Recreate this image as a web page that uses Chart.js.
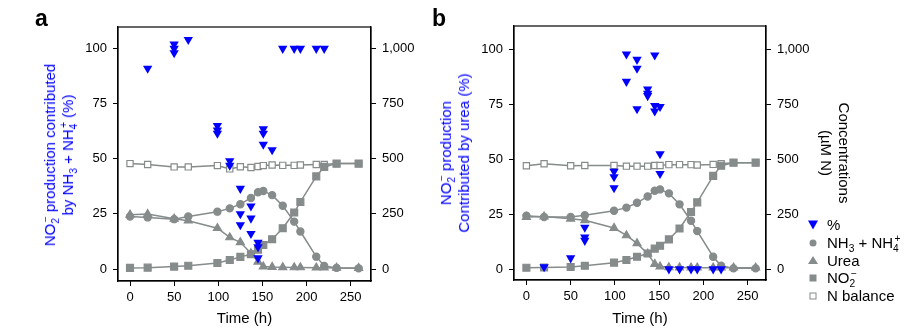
<!DOCTYPE html>
<html>
<head>
<meta charset="utf-8">
<script src="https://cdn.jsdelivr.net/npm/chart.js@4.4.1/dist/chart.umd.min.js"></script>
<style>
  body { margin: 0; background: #fff; font-family: "Liberation Sans", Arial, sans-serif; }
  #wrap { position: relative; width: 914px; height: 334px; overflow: hidden; }
  .panel { position: absolute; top: 0; }
  .letter { position: absolute; font-weight: bold; font-size: 23px; line-height: 23px; color: #000; }
  .ttl { position: absolute; white-space: nowrap; text-align: center; font-size: 15px; line-height: 18px; }
  .blue { color: #0000ff; }
  sub, sup { font-size: 0.68em; line-height: 0; }
  sup.bk { margin-left: -0.42em; }
  #legend { position: absolute; left: 806px; top: 216px; font-size: 15px; color: #000; }
  #legend .row { height: 17.8px; line-height: 17.8px; white-space: nowrap; }
  #legend .mk { display: inline-block; width: 14px; height: 17.8px; position: relative; vertical-align: top; margin-right: 7px; }
  #legend .mk i { position: absolute; left: 50%; top: 50%; transform: translate(-50%, -50%); display: block; }
  .m-pct { width: 0; height: 0; border-left: 5px solid transparent; border-right: 5px solid transparent; border-top: 9px solid #0000ff; }
  .m-nh { width: 7px; height: 7px; border-radius: 50%; background: #868b8b; }
  .m-urea { width: 0; height: 0; border-left: 5px solid transparent; border-right: 5px solid transparent; border-bottom: 8px solid #868b8b; }
  .m-no2 { width: 7px; height: 7px; background: #868b8b; }
  .m-bal { width: 5px; height: 5px; border: 1.3px solid #868b8b; background: #fff; }
</style>
</head>
<body>
<div id="wrap">
  <div class="panel" style="left:0"><canvas id="chartA" width="430" height="334"></canvas></div>
  <div class="panel" style="left:430px"><canvas id="chartB" width="484" height="334"></canvas></div>

  <div class="letter" style="left:35px;top:7px">a</div>
  <div class="letter" style="left:432px;top:7px">b</div>

  <div class="ttl blue" style="left:59px;top:155px;transform:translate(-50%,-50%) rotate(-90deg)">NO<sub>2</sub><sup class="bk">−</sup> production contributed<br>by NH<sub>3</sub> + NH<sub>4</sub><sup class="bk">+</sup> (%)</div>
  <div class="ttl blue" style="left:455px;top:153px;transform:translate(-50%,-50%) rotate(-90deg)">NO<sub>2</sub><sup class="bk">−</sup> production<br>Contributed by urea (%)</div>
  <div class="ttl" style="left:835px;top:153px;transform:translate(-50%,-50%) rotate(90deg)">Concentrations<br>(µM N)</div>

  <div id="legend">
    <div class="row"><span class="mk"><i class="m-pct"></i></span>%</div>
    <div class="row"><span class="mk"><i class="m-nh"></i></span>NH<sub>3</sub> + NH<sub>4</sub><sup class="bk">+</sup></div>
    <div class="row"><span class="mk"><i class="m-urea"></i></span>Urea</div>
    <div class="row"><span class="mk"><i class="m-no2"></i></span>NO<sub>2</sub><sup class="bk">−</sup></div>
    <div class="row"><span class="mk"><i class="m-bal"></i></span>N balance</div>
  </div>
</div>

<script>
  // sampling times (h), shared by all concentration series
  const times = [0, 20, 50, 66, 99, 113, 125, 137, 145, 151, 161, 173, 186, 193, 211, 220, 234, 259];

  // axis ticks
  const timeTicks = [0, 50, 100, 150, 200, 250];
  const pctTicks = [0, 25, 50, 75, 100];
  const concTicks = [0, 250, 500, 750, 1000];

  // panel a: share of NO2- production from NH3 + NH4+ (%), replicates per time
  const pctTimesA = [20, 50, 50, 50, 66, 99, 99, 99, 113, 113, 125, 125, 125, 137, 137, 137,
                     145, 145, 145, 151, 151, 151, 161, 173, 186, 193, 211, 220];
  const pctA = [91, 102, 100, 98, 104, 65, 63, 61.5, 49, 47, 36.5, 25, 20, 28.5, 23, 16,
                12, 10, 5, 63.5, 61.5, 56.5, 54, 100, 100, 100, 100, 100];

  // panel a concentrations (µM N)
  const nhA = [238, 234, 226, 238, 260, 275, 294, 322, 348, 354, 335, 287, 215, 170, 56, 14, 5, 3];
  const ureaA = [246, 249, 228, 219, 185, 143, 121, 71, 33, 11, 9, 8, 7, 7, 6, 6, 5, 4];
  const no2A = [5, 6, 11, 15, 27, 41, 55, 67, 88, 109, 135, 185, 256, 304, 420, 463, 478, 478];
  const balA = [478, 474, 463, 463, 469, 454, 464, 460, 465, 469, 472, 470, 470, 472, 474, 474, 478, 478];

  // panel b: share of NO2- production from urea (%)
  const pctTimesB = [20, 50, 66, 66, 66, 99, 99, 99, 113, 113, 125, 125, 125, 137, 137, 137,
                     145, 145, 145, 151, 151, 151, 161, 173, 186, 193, 211, 220];
  const pctB = [1, 5, 19, 14.5, 13, 44.5, 42, 37, 98, 85.5, 95.5, 91.5, 73, 82, 80, 79,
                97.5, 74.5, 72, 74, 52.5, 43.5, 0, 0, 0, 0, 0, 0];

  // panel b concentrations (µM N)
  const nhB = [243, 237, 237, 245, 266, 280, 302, 331, 357, 363, 345, 295, 220, 173, 56, 15, 3, 3];
  const ureaB = [237, 239, 229, 222, 187, 153, 117, 70, 23, 11, 8, 7, 6, 6, 6, 6, 6, 6];
  const no2B = [6, 7, 9, 15, 29, 41, 56, 71, 93, 106, 135, 185, 260, 304, 425, 471, 485, 485];
  const balB = [471, 480, 471, 472, 472, 469, 469, 469, 472, 472, 476, 476, 476, 474, 477, 480, 485, 485];

  const GREY = '#868b8b';
  const BLUE = '#0000ff';
  const FONT = '"Liberation Sans", Arial, sans-serif';

  const pairs = (xs, ys) => xs.map((x, i) => ({ x: x, y: ys[i] }));

  // black box around the plot area
  const frame = {
    id: 'frame',
    beforeDatasetsDraw(chart) {
      const { ctx, chartArea: a } = chart;
      ctx.save();
      ctx.strokeStyle = '#000';
      ctx.lineWidth = 1.2;
      ctx.strokeRect(a.left, a.top, a.width, a.height);
      ctx.restore();
    }
  };

  function concSet(label, values, style, radius, fill, order) {
    return {
      type: 'line',
      label: label,
      data: pairs(times, values),
      yAxisID: 'y1',
      borderColor: GREY,
      borderWidth: 1.5,
      tension: 0,
      pointStyle: style,
      pointRadius: radius,
      pointBackgroundColor: fill,
      pointBorderColor: GREY,
      pointBorderWidth: 1.2,
      order: order
    };
  }

  function tickAxis(position, ticks, fmt, width) {
    return {
      type: 'linear',
      position: position,
      afterBuildTicks: s => { s.ticks = ticks.map(v => ({ value: v })); },
      afterFit: s => { s.width = width; },
      grid: { drawOnChartArea: false, drawTicks: true, tickLength: 5, color: '#000', lineWidth: 1 },
      border: { display: true, color: '#000', width: 1.2 },
      ticks: { color: '#000', padding: 6, font: { family: FONT, size: 13 }, callback: fmt }
    };
  }

  function makePanel(id, p) {
    const yLeft = tickAxis('left', pctTicks, v => String(v), p.leftW);
    yLeft.min = p.pctMin; yLeft.max = p.pctMax;
    const yRight = tickAxis('right', concTicks, v => v.toLocaleString('en-US'), p.rightW);
    yRight.min = p.pctMin * 10; yRight.max = p.pctMax * 10;

    new Chart(document.getElementById(id), {
      type: 'line',
      data: {
        datasets: [
          {
            type: 'scatter',
            label: '%',
            data: pairs(p.pctTimes, p.pct),
            yAxisID: 'y',
            pointStyle: 'triangle',
            rotation: 180,
            pointRadius: 5.4,
            pointBackgroundColor: BLUE,
            pointBorderColor: BLUE,
            pointBorderWidth: 0,
            order: 0
          },
          concSet('N balance', p.bal, 'rect', 4.4, '#fff', 4),
          concSet('NH3 + NH4+', p.nh, 'circle', 3.6, GREY, 3),
          concSet('Urea', p.urea, 'triangle', 4.6, GREY, 2),
          concSet('NO2-', p.no2, 'rect', 4.9, GREY, 1)
        ]
      },
      options: {
        responsive: false,
        animation: false,
        devicePixelRatio: 1,
        layout: { padding: { top: p.top, left: 0, right: 0, bottom: 0 } },
        plugins: { legend: { display: false }, tooltip: { enabled: false } },
        scales: {
          x: {
            type: 'linear',
            min: p.tMin, max: p.tMax,
            afterBuildTicks: s => { s.ticks = timeTicks.map(v => ({ value: v })); },
            afterFit: s => { s.height = p.bottomH; },
            grid: { drawOnChartArea: false, drawTicks: true, tickLength: 5, color: '#000', lineWidth: 1 },
            border: { display: true, color: '#000', width: 1.2 },
            ticks: { color: '#000', padding: 4, maxRotation: 0, font: { family: FONT, size: 13 } },
            title: { display: true, text: 'Time (h)', color: '#000', font: { family: FONT, size: 15 }, padding: { top: 0, bottom: 6 } }
          },
          y: yLeft,
          y1: yRight
        }
      },
      plugins: [frame]
    });
  }

  makePanel('chartA', {
    pctTimes: pctTimesA, pct: pctA, nh: nhA, urea: ureaA, no2: no2A, bal: balA,
    tMin: -13.6, tMax: 273, pctMin: -5.44, pctMax: 109.75,
    leftW: 118, rightW: 59, top: 27, bottomH: 53
  });

  makePanel('chartB', {
    pctTimes: pctTimesB, pct: pctB, nh: nhB, urea: ureaB, no2: no2B, bal: balB,
    tMin: -14, tMax: 270.7, pctMin: -5.0, pctMax: 110.8,
    leftW: 84, rightW: 148, top: 26, bottomH: 54
  });
</script>
</body>
</html>
